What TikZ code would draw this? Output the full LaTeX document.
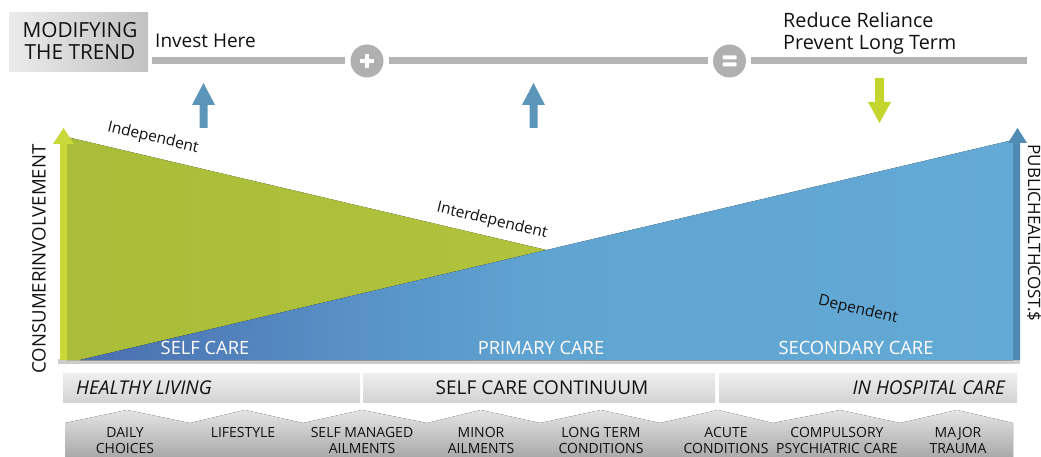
\documentclass[tikz,border=0pt]{standalone}
\usepackage{fontspec}
\setmainfont{Open Sans}
\newcommand{\fsz}[1]{\fontsize{#1}{#1}\selectfont}
\definecolor{boxL}{HTML}{EBEBEB}
\definecolor{boxR}{HTML}{C2C2C2}
\definecolor{lineG}{HTML}{B5B5B5}
\definecolor{circG}{HTML}{B0B0B0}
\definecolor{arrB}{HTML}{5B95BA}
\definecolor{arrG}{HTML}{C4D52E}
\definecolor{triGL}{HTML}{A9BD3A}
\definecolor{triGR}{HTML}{B9C83E}
\definecolor{triBL}{HTML}{4A6EB0}
\definecolor{triBQ}{HTML}{5892C6}
\definecolor{triBM}{HTML}{60A4D2}
\definecolor{triBR}{HTML}{64AAD6}
\definecolor{limeA}{HTML}{C9D93A}
\definecolor{blueA}{HTML}{4F8BB3}
\definecolor{bandT}{HTML}{EFEFEF}
\definecolor{bandB}{HTML}{D3D3D3}
\definecolor{chevT}{HTML}{E4E4E4}
\definecolor{chevB}{HTML}{A9A9A9}
\definecolor{ink}{HTML}{111111}
\pgfdeclarehorizontalshading{bluesh}{100bp}{color(0bp)=(triBL); color(25bp)=(triBL); color(40bp)=(triBQ); color(50bp)=(triBM); color(75bp)=(triBR); color(100bp)=(triBR)}
\begin{document}
\begin{tikzpicture}[x=1pt,y=-1pt,
  txt/.style={inner sep=0pt, text=ink},
  headtxt/.style={txt, font=\fsz{19}},
  slope/.style={txt, font=\fsz{15.5}, rotate=-13.3},
  chartlbl/.style={inner sep=0pt, text=white, font=\fsz{18.3}},
  bandlbl/.style={txt, font=\fsz{19}},
  itemlbl/.style={txt, font=\fontsize{14}{16}\selectfont, align=center, anchor=north},
  trackline/.style={draw=lineG, line width=7pt},
  opcirc/.style={circle, fill=circG, minimum size=33pt, inner sep=0pt},
  bandbox/.style={top color=bandT, bottom color=bandB}
]
\useasboundingbox (0,0) rectangle (1041,457);

% ---- top header ----
\fill[left color=boxL, right color=boxR] (9,13) rectangle (148,72);
\node[headtxt, align=center, font=\fontsize{20.8}{22}\selectfont] (trend) at (80,41) {MODIFYING\\THE TREND};
\node[headtxt, anchor=base west] (invest) at (155,48) {Invest Here};
\node[headtxt, anchor=north west, align=left, font=\fontsize{19.8}{22}\selectfont] (reduce) at (783,12.2) {Reduce Reliance\\Prevent Long Term};

\coordinate (l1a) at (152,61);
\coordinate (l3b) at (1027,61);
\node[opcirc] (plus) at (367,61) {};
\node[opcirc] (equal) at (729.5,61) {};
\draw[trackline] (l1a) -- ([xshift=-5pt]plus.west);
\draw[trackline] ([xshift=5pt]plus.east) -- ([xshift=-5pt]equal.west);
\draw[trackline] ([xshift=5pt]equal.east) -- (l3b);
\fill[white] (360,59) rectangle (374,63);
\fill[white] (365,54) rectangle (369,68);
\fill[white, rounded corners=1pt] (722.5,55.5) rectangle (736.5,59.5);
\fill[white, rounded corners=1pt] (722.5,62.5) rectangle (736.5,66.5);

% ---- small arrows ----
\fill[arrB] (199.5,128) -- (199.5,105) -- (192,105) -- (203.5,83) -- (215,105) -- (207.5,105) -- (207.5,128) -- cycle;
\fill[arrB] (529.5,128) -- (529.5,105) -- (522,105) -- (533.5,83) -- (545,105) -- (537.5,105) -- (537.5,128) -- cycle;
\fill[arrG] (875,78) -- (875,102) -- (868,102) -- (879.5,123) -- (891,102) -- (884,102) -- (884,78) -- cycle;

% ---- chart ----
\fill[black!20] (58,359) rectangle (1020,364);
\fill[left color=triGL, right color=triGR] (67,137) -- (67,360) -- (1013,360) -- cycle;
\fill[shading=bluesh] (80,360) -- (1013,140) -- (1013,360) -- cycle;
\fill[limeA] (60,360) -- (60,144) -- (53,144) -- (63.5,128) -- (74,144) -- (67,144) -- (67,360) -- cycle;
\fill[blueA] (1013,360) -- (1013,143) -- (1008,143) -- (1017.5,128) -- (1027,143) -- (1020,143) -- (1020,360) -- cycle;

\node[slope] (indep) at (153,138) {Independent};
\node[slope] (inter) at (492,221) {Interdependent};
\node[slope] (dep) at (858,310) {Dependent};

\node[chartlbl, anchor=base] (sc) at (205,354) {SELF CARE};
\node[chartlbl, anchor=base] (pc) at (541,354) {PRIMARY CARE};
\node[chartlbl, anchor=base] (sec) at (856,354) {SECONDARY CARE};

\node[txt, font=\fsz{18.6}, rotate=90] (cons) at (39,259) {CONSUMERINVOLVEMENT};
\node[txt, font=\fsz{17}, rotate=-90] (cost) at (1034,233) {PUBLICHEALTHCOST.\$};

% ---- band row ----
\fill[bandbox] (63,373) rectangle (360,402);
\fill[bandbox] (363,373) rectangle (715,402);
\fill[bandbox] (719,373) rectangle (1017,402);
\node[bandlbl, anchor=base west, font=\fsz{19}\itshape] (hl) at (76,394) {HEALTHY LIVING};
\node[bandlbl, anchor=base] (scc) at (542,394) {SELF CARE CONTINUUM};
\node[bandlbl, anchor=base east, font=\fsz{19}\itshape] (hc) at (1005,394) {IN HOSPITAL CARE};

% ---- bottom chevrons ----
\fill[top color=chevT, bottom color=chevB]
  (65,457) -- (65,423) -- (127,410) -- (190,423) -- (245,410) -- (303,423) -- (362,410) -- (427,423)
  -- (481,410) -- (540,423) -- (601,410) -- (660,423) -- (718,410) -- (773,423) -- (840,410)
  -- (900,423) -- (957,410) -- (1013,423) -- (1013,457) -- cycle;
\node[itemlbl] (i1) at (125,427) {DAILY\\CHOICES};
\node[itemlbl] (i2) at (243,427) {LIFESTYLE};
\node[itemlbl] (i3) at (362,427) {SELF MANAGED\\AILMENTS};
\node[itemlbl] (i4) at (481,427) {MINOR\\AILMENTS};
\node[itemlbl] (i5) at (601,427) {LONG TERM\\CONDITIONS};
\node[itemlbl] (i6) at (726,427) {ACUTE\\CONDITIONS};
\node[itemlbl] (i7) at (837,427) {COMPULSORY\\PSYCHIATRIC CARE};
\node[itemlbl] (i8) at (958,427) {MAJOR\\TRAUMA};
\end{tikzpicture}
\end{document}
